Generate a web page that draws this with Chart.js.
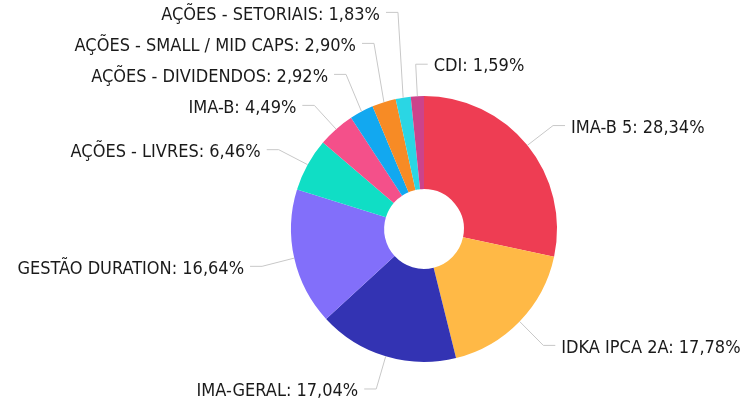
<!DOCTYPE html>
<html>
<head>
<meta charset="utf-8">
<script src="https://cdn.jsdelivr.net/npm/chart.js@4"></script>
<style>
  html, body { margin: 0; padding: 0; background: #fff; }
  #wrap { width: 743px; height: 404px; position: relative; }
</style>
</head>
<body>
<div id="wrap"><canvas id="chart"></canvas></div>
<script>
const categories = [
  "IMA-B 5", "IDKA IPCA 2A", "IMA-GERAL", "GESTÃO DURATION", "AÇÕES - LIVRES",
  "IMA-B", "AÇÕES - DIVIDENDOS", "AÇÕES - SMALL / MID CAPS", "AÇÕES - SETORIAIS", "CDI"
];
const shares = [28.34, 17.78, 17.04, 16.64, 6.46, 4.49, 2.92, 2.90, 1.83, 1.59];
const colors = [
  "#EE3D53", "#FFB946", "#3333B3", "#826FFA", "#10DEC5",
  "#F4508A", "#12A8F0", "#F78B25", "#2AD6E4", "#CC438B"
];

const fmt = (v) => v.toFixed(2).replace(".", ",") + "%";

// leader lines + labels, laid out per side and pushed apart vertically
const pieLabels = {
  id: "pieLabels",
  afterDraw(chart) {
    const ctx = chart.ctx;
    const meta = chart.getDatasetMeta(0);
    const gap = 31, extra = 33, seg = 12, pad = 6;
    const items = meta.data.map((arc, i) => {
      const p = arc.getProps(["x", "y", "startAngle", "endAngle", "outerRadius"], true);
      const mid = (p.startAngle + p.endAngle) / 2;
      const R = p.outerRadius + extra;
      return {
        i,
        right: Math.cos(mid) > -0.1,
        ax: p.x + p.outerRadius * Math.cos(mid),
        ay: p.y + p.outerRadius * Math.sin(mid),
        bx: p.x + R * Math.cos(mid),
        by: p.y + 1 + R * Math.sin(mid),
      };
    });

    [true, false].forEach((side) => {
      const list = items.filter((d) => d.right === side).sort((a, b) => a.by - b.by);
      for (let k = list.length - 2; k >= 0; k--) {
        list[k].by = Math.min(list[k].by, list[k + 1].by - gap);
      }
      for (let k = 1; k < list.length; k++) {
        list[k].by = Math.max(list[k].by, list[k - 1].by + gap);
      }
    });

    ctx.save();
    ctx.font = '18px "DejaVu Sans Condensed", "DejaVu Sans", sans-serif';
    ctx.textBaseline = "middle";
    items.forEach((d) => {
      const dir = d.right ? 1 : -1;
      const ex = d.bx + dir * seg;
      ctx.strokeStyle = "#c8c8c8";
      ctx.lineWidth = 1;
      ctx.beginPath();
      ctx.moveTo(d.ax, d.ay);
      ctx.lineTo(d.bx, d.by);
      ctx.lineTo(ex, d.by);
      ctx.stroke();
      ctx.fillStyle = "#1a1a1a";
      ctx.textAlign = d.right ? "left" : "right";
      ctx.fillText(categories[d.i] + ": " + fmt(shares[d.i]), ex + dir * pad, d.by + 2.5);
    });
    ctx.restore();
  },
};

new Chart(document.getElementById("chart"), {
  type: "doughnut",
  data: {
    labels: categories,
    datasets: [{
      data: shares,
      backgroundColor: colors,
      borderWidth: 0,
      hoverOffset: 0,
      offset: 0,
    }],
  },
  options: {
    responsive: true,
    maintainAspectRatio: false,
    animation: false,
    cutout: "30%",
    layout: { padding: { left: 291, right: 186, top: 96, bottom: 42 } },
    plugins: { legend: { display: false }, tooltip: { enabled: false } },
  },
  plugins: [pieLabels],
});
</script>
</body>
</html>
